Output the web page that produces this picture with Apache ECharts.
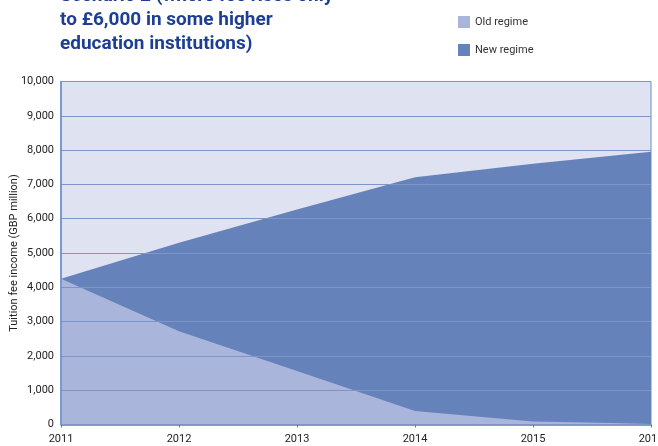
<!DOCTYPE html>
<html>
<head>
<meta charset="utf-8">
<script src="https://cdn.jsdelivr.net/npm/echarts@6/dist/echarts.min.js"></script>
<style>html,body{margin:0;padding:0;background:#fff}#c{width:658px;height:446px}</style>
</head>
<body>
<div id="c"></div>
<script>
var years = ['2011', '2012', '2013', '2014', '2015', '2016'];
var oldRegime = [4250, 2720, 1560, 390, 90, 20];
var newRegime = [4250, 5300, 6270, 7210, 7600, 7950];
var titleLines = ['Scenario 2 (where fee rises only', 'to £6,000 in some higher', 'education institutions)'];
var yAxisTitle = 'Tuition fee income (GBP million)';

var chart = echarts.init(document.getElementById('c'));
chart.setOption({
  animation: false,
  backgroundColor: '#ffffff',
  textStyle: { fontFamily: 'Roboto' },
  graphic: titleLines.map(function (t, i) {
    return {
      type: 'text', left: 60, top: -13 + i * 24,
      style: { text: t, fill: '#1c3f94', font: 'bold 19px Roboto', textVerticalAlign: 'top' }
    };
  }),
  legend: {
    orient: 'vertical', left: 453, top: 11,
    itemWidth: 12, itemHeight: 12, itemGap: 16, icon: 'rect',
    textStyle: { color: '#333', fontSize: 11, fontFamily: 'Roboto' },
    data: ['Old regime', 'New regime']
  },
  grid: {
    left: 61, right: 7, top: 81.5, bottom: 21.5,
    containLabel: false, outerBoundsMode: 'none',
    show: true, backgroundColor: '#dfe2f0', borderColor: '#6c8ccb', borderWidth: 1
  },
  xAxis: {
    type: 'category', data: years, boundaryGap: false,
    axisLine: { lineStyle: { color: '#4f7cc2', width: 1.5 } },
    axisTick: { show: true, length: 3, lineStyle: { color: '#4f7cc2' } },
    axisLabel: { color: '#222', fontSize: 11, margin: 9, fontFamily: 'Roboto' },
    splitLine: { show: false }
  },
  yAxis: {
    type: 'value', min: 0, max: 10000, interval: 1000, z: 5,
    name: yAxisTitle, nameLocation: 'middle', nameRotate: 90, nameGap: 41,
    nameMoveOverlap: false,
    nameTextStyle: { color: '#222', fontSize: 11, fontFamily: 'Roboto' },
    axisLine: { show: true, lineStyle: { color: '#6c8ccb', width: 1.5 } },
    axisTick: { show: false },
    axisLabel: {
      color: '#222', fontSize: 11, margin: 7, fontFamily: 'Roboto',
      formatter: function (v) { return v.toLocaleString('en-US'); }
    },
    splitLine: { lineStyle: { color: '#7d95c9', width: 1 } }
  },
  series: [
    {
      name: 'New regime', type: 'line', data: newRegime, symbol: 'none', z: 2,
      lineStyle: { width: 0 }, itemStyle: { color: '#6682bb' },
      areaStyle: { color: '#6682bb', opacity: 1 }
    },
    {
      name: 'Old regime', type: 'line', data: oldRegime, symbol: 'none', z: 3,
      lineStyle: { width: 0 }, itemStyle: { color: '#a9b5da' },
      areaStyle: { color: '#a9b5da', opacity: 1 }
    }
  ]
});
</script>
</body>
</html>
